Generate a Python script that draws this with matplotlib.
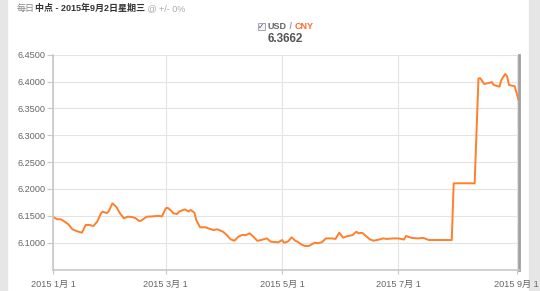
import matplotlib
matplotlib.use("Agg")
import matplotlib.pyplot as plt
from matplotlib.patches import Rectangle
import pandas as pd

plt.rcParams['font.family'] = ['Liberation Sans', 'Noto Sans CJK SC', 'DejaVu Sans']

# USD/CNY daily central parity
dates = ['2015-01-01', '2015-01-03', '2015-01-05', '2015-01-07', '2015-01-09', '2015-01-11',
         '2015-01-13', '2015-01-16', '2015-01-18', '2015-01-20', '2015-01-22', '2015-01-24',
         '2015-01-26', '2015-01-27', '2015-01-29', '2015-01-30', '2015-02-01', '2015-02-03',
         '2015-02-05', '2015-02-07', '2015-02-09', '2015-02-11', '2015-02-13', '2015-02-15',
         '2015-02-16', '2015-02-19', '2015-02-22', '2015-02-25', '2015-02-27', '2015-03-01',
         '2015-03-02', '2015-03-04', '2015-03-05', '2015-03-07', '2015-03-08', '2015-03-11',
         '2015-03-13', '2015-03-14', '2015-03-16', '2015-03-17', '2015-03-19', '2015-03-22',
         '2015-03-23', '2015-03-26', '2015-03-28', '2015-03-31', '2015-04-02', '2015-04-04',
         '2015-04-06', '2015-04-08', '2015-04-10', '2015-04-12', '2015-04-14', '2015-04-16',
         '2015-04-18', '2015-04-20', '2015-04-23', '2015-04-25', '2015-04-28', '2015-04-29',
         '2015-05-01', '2015-05-02', '2015-05-04', '2015-05-06', '2015-05-08', '2015-05-09',
         '2015-05-11', '2015-05-13', '2015-05-15', '2015-05-18', '2015-05-20', '2015-05-22',
         '2015-05-24', '2015-05-27', '2015-05-29', '2015-05-31', '2015-06-02', '2015-06-04',
         '2015-06-07', '2015-06-09', '2015-06-10', '2015-06-12', '2015-06-16', '2015-06-18',
         '2015-06-21', '2015-06-23', '2015-06-25', '2015-06-28', '2015-07-01', '2015-07-04',
         '2015-07-05', '2015-07-08', '2015-07-11', '2015-07-14', '2015-07-17', '2015-07-18',
         '2015-07-29', '2015-07-30', '2015-08-10', '2015-08-12', '2015-08-13', '2015-08-15',
         '2015-08-17', '2015-08-19', '2015-08-20', '2015-08-23', '2015-08-24', '2015-08-26',
         '2015-08-27', '2015-08-28', '2015-08-30', '2015-08-31', '2015-09-02']
rates = [6.1480, 6.1436, 6.1436, 6.1390, 6.1340, 6.1250,
         6.1220, 6.1186, 6.1330, 6.1330, 6.1310, 6.1390,
         6.1547, 6.1578, 6.1550, 6.1580, 6.1733, 6.1670,
         6.1547, 6.1454, 6.1484, 6.1480, 6.1460, 6.1404,
         6.1410, 6.1484, 6.1490, 6.1500, 6.1490, 6.1640,
         6.1650, 6.1590, 6.1547, 6.1535, 6.1580, 6.1620,
         6.1580, 6.1610, 6.1560, 6.1420, 6.1287, 6.1287,
         6.1270, 6.1236, 6.1250, 6.1205, 6.1143, 6.1063,
         6.1037, 6.1110, 6.1143, 6.1143, 6.1175, 6.1110,
         6.1035, 6.1050, 6.1080, 6.1020, 6.1010, 6.1007,
         6.1050, 6.1000, 6.1020, 6.1100, 6.1035, 6.1020,
         6.0970, 6.0938, 6.0938, 6.1000, 6.0990, 6.1013,
         6.1080, 6.1080, 6.1070, 6.1186, 6.1093, 6.1120,
         6.1143, 6.1205, 6.1175, 6.1186, 6.1063, 6.1037,
         6.1060, 6.1080, 6.1070, 6.1080, 6.1080, 6.1060,
         6.1125, 6.1090, 6.1080, 6.1090, 6.1050, 6.1050,
         6.1050, 6.2106, 6.2106, 6.4060, 6.4060, 6.3955,
         6.3970, 6.3990, 6.3937, 6.3905, 6.4030, 6.4140,
         6.4100, 6.3937, 6.3920, 6.3910, 6.3662]

tick_dates = ['2015-01-01', '2015-03-01', '2015-05-01', '2015-07-01', '2015-09-01']
tick_labels = ['2015 1月 1', '2015 3月 1', '2015 5月 1', '2015 7月 1', '2015 9月 1']
y_ticks = [6.10, 6.15, 6.20, 6.25, 6.30, 6.35, 6.40, 6.45]

x = pd.to_datetime(dates)

fig = plt.figure(figsize=(5.4, 2.91), dpi=100)
W, H = 540, 291
ax = fig.add_axes([53.3 / W, 1 - 270 / H, (518.5 - 53.3) / W, (270 - 54.7) / H])

# grey side strips, kept behind the axes
fig.patches.append(Rectangle((0, 0), 7 / W, 1, transform=fig.transFigure,
                             color='#e6e6e6', zorder=-5))
fig.patches.append(Rectangle((529 / W, 0), 11 / W, 1, transform=fig.transFigure,
                             color='#e6e6e6', zorder=-5))

ax.plot(x, rates, color='#ff7f2a', lw=1.4, solid_joinstyle='round')

ax.set_xlim(pd.Timestamp('2015-01-01'), pd.Timestamp('2015-09-02'))
ax.set_ylim(6.0492, 6.45)
ax.set_xticks(pd.to_datetime(tick_dates))
ax.set_xticklabels(tick_labels)
ax.set_yticks(y_ticks)
ax.set_yticklabels(['%.4f' % v for v in y_ticks])

ax.grid(True, color='#e4e4e4', lw=0.8)
ax.set_axisbelow(True)
ax.patch.set_alpha(0)
ax.spines['top'].set_visible(False)
ax.spines['left'].set_color('#c8c8c8')
ax.spines['bottom'].set_color('#c8c8c8')
ax.spines['left'].set_linewidth(1.2)
ax.spines['bottom'].set_linewidth(1.2)
ax.spines['right'].set_color('#a0a0a0')
ax.spines['right'].set_linewidth(2)
ax.tick_params(axis='y', colors='#c8c8c8', labelcolor='#666666', labelsize=6.6,
               length=4, pad=1.5)
ax.tick_params(axis='x', colors='#c8c8c8', labelcolor='#666666', labelsize=6.6,
               length=3, pad=4)

# header line with mixed styles
fig.canvas.draw()
r = fig.canvas.get_renderer()
pos = 17 / W
for txt, col, wt in [('每日', '#8a8a8a', 'normal'),
                     ('中点 - 2015年9月2日星期三', '#333333', 'bold'),
                     (' @ +/- 0%', '#aaaaaa', 'normal')]:
    t = fig.text(pos, 1 - 8.5 / H, txt, color=col, fontsize=6.5, weight=wt,
                 va='center', ha='left')
    pos = t.get_window_extent(r).x1 / W

# legend: checkbox USD / CNY
fig.patches.append(Rectangle((258 / W, 1 - 30 / H), 7 / W, 7 / H, transform=fig.transFigure,
                             facecolor='#f4f4f4', edgecolor='#999999', lw=0.6, zorder=3))
fig.text(261.5 / W, 1 - 26.5 / H, '✓', color='#3355aa', fontsize=5.5, ha='center',
         va='center', family='DejaVu Sans', zorder=4)
pos = 268 / W
for txt, col in [('USD', '#666666'), (' / ', '#999999'), ('CNY', '#ff6a2a')]:
    t = fig.text(pos, 1 - 26.5 / H, txt, color=col, fontsize=6.5, weight='bold',
                 va='center', ha='left')
    pos = t.get_window_extent(r).x1 / W
fig.text(285.5 / W, 1 - 38.5 / H, '6.3662', color='#555555', fontsize=8.5,
         weight='bold', ha='center', va='center')

plt.savefig('out.png', dpi=100)
